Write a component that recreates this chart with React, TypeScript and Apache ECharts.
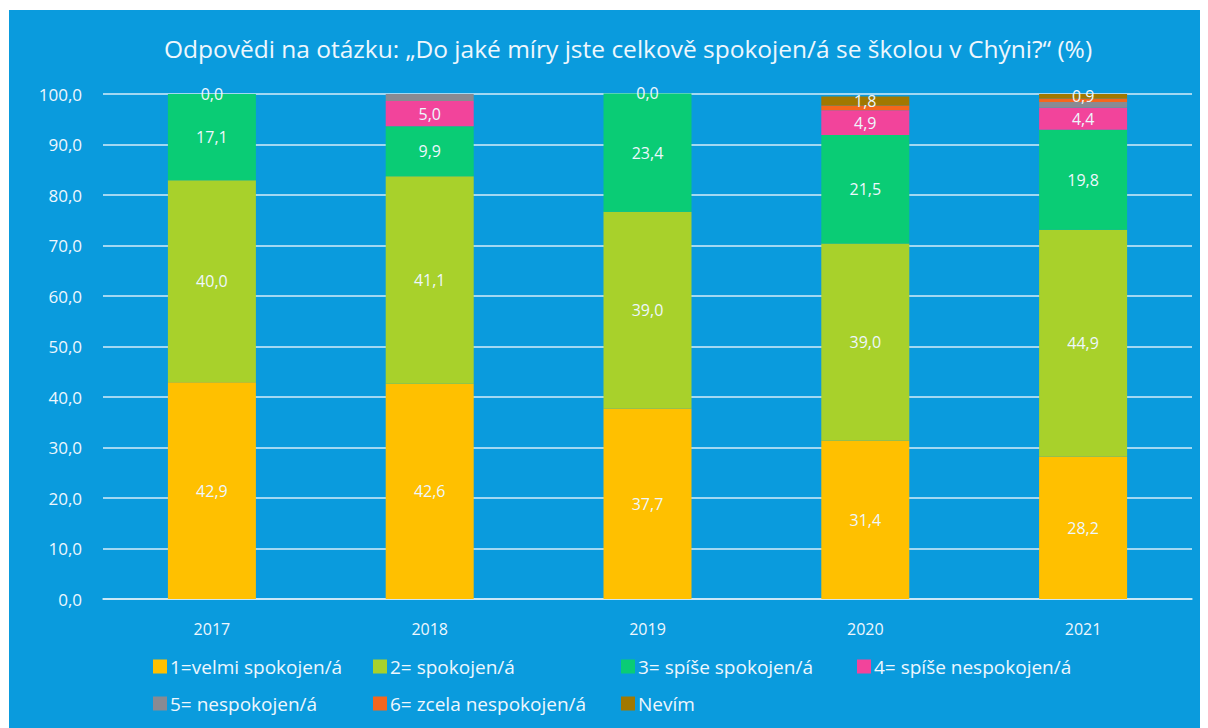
import React, { useEffect, useRef } from "react";
import * as echarts from "echarts";

const years = ["2017", "2018", "2019", "2020", "2021"];
const seriesNames = [
  "1=velmi spokojen/á",
  "2= spokojen/á",
  "3= spíše spokojen/á",
  "4= spíše nespokojen/á",
  "5= nespokojen/á",
  "6= zcela nespokojen/á",
  "Nevím",
];
const s1 = [42.9, 42.6, 37.7, 31.4, 28.2];
const s2 = [40.0, 41.1, 39.0, 39.0, 44.9];
const s3 = [17.1, 9.9, 23.4, 21.5, 19.8];
const s4 = [0.0, 5.0, 0.0, 4.9, 4.4];
const s5 = [0, 1.4, 0, 0, 1.1];
const s6 = [0, 0, 0, 0.9, 0.7];
const s7 = [null, null, null, 1.8, 0.9];
const colors = ["#FFC000", "#A8D12B", "#0ACC75", "#F2449B", "#898A92", "#F5661C", "#A07800"];
const showLabels = [true, true, true, true, false, false, true];
const yTicks = [0, 10, 20, 30, 40, 50, 60, 70, 80, 90, 100];

const FONT = "'Open Sans', Lato, sans-serif";
const TXT = "#EEF7FD";

export default function App() {
  const ref = useRef<HTMLDivElement>(null);
  useEffect(() => {
    if (!ref.current) return;
    const chart = echarts.init(ref.current, undefined, { renderer: "svg" });
    const all = [s1, s2, s3, s4, s5, s6, s7];
    const fmt = (v: number) => v.toFixed(1).replace(".", ",");
    const series = all.map((d, i) => ({
      name: seriesNames[i],
      type: "bar",
      stack: "total",
      barWidth: 88,
      clip: false,
      data: d,
      itemStyle: { color: colors[i] },
      label: {
        show: showLabels[i],
        position: "inside",
        color: TXT,
        fontFamily: FONT,
        fontSize: 16,
        formatter: (p: any) => (p.value == null ? "" : fmt(p.value)),
      },
    }));
    const legendCols = [
      { left: 139, names: [seriesNames[0], seriesNames[4]] },
      { left: 359, names: [seriesNames[1], seriesNames[5]] },
      { left: 607, names: [seriesNames[2], seriesNames[6]] },
      { left: 843, names: [seriesNames[3]] },
    ];
    chart.setOption({
      animation: false,
      backgroundColor: "#0A9BDD",
      color: colors,
      title: {
        text: "Odpovědi na otázku: „Do jaké míry jste celkově spokojen/á se školou v Chýni?“ (%)",
        left: 614,
        top: 21,
        textAlign: "center",
        textStyle: { color: TXT, fontFamily: FONT, fontSize: 24.5, fontWeight: "normal" },
      },
      legend: legendCols.map((c) => ({
        orient: "vertical",
        left: c.left,
        top: 642,
        itemGap: 18,
        itemWidth: 14,
        itemHeight: 14,
        icon: "rect",
        data: c.names,
        selectedMode: false,
        textStyle: { color: TXT, fontFamily: FONT, fontSize: 19, padding: [0, 0, 0, -2] },
      })),
      grid: { left: 94, right: 17, top: 84, bottom: 131 },
      xAxis: {
        type: "category",
        data: years,
        axisLine: { lineStyle: { color: "#D6EDF8", width: 1.5 } },
        axisTick: { show: false },
        axisLabel: { color: TXT, fontFamily: FONT, fontSize: 16, margin: 22 },
      },
      yAxis: {
        type: "value",
        min: yTicks[0],
        max: yTicks[yTicks.length - 1],
        interval: 10,
        axisLine: { show: false },
        axisTick: { show: false },
        splitLine: { lineStyle: { color: "#D6EDF8", width: 1.5 } },
        axisLabel: {
          color: TXT,
          fontFamily: FONT,
          fontSize: 17,
          margin: 21,
          formatter: (v: number) => fmt(v),
        },
      },
      series,
    });
    return () => chart.dispose();
  }, []);
  return (
    <div
      ref={ref}
      style={{ width: 1200, height: 720, marginLeft: 1, marginTop: 2 }}
    />
  );
}
